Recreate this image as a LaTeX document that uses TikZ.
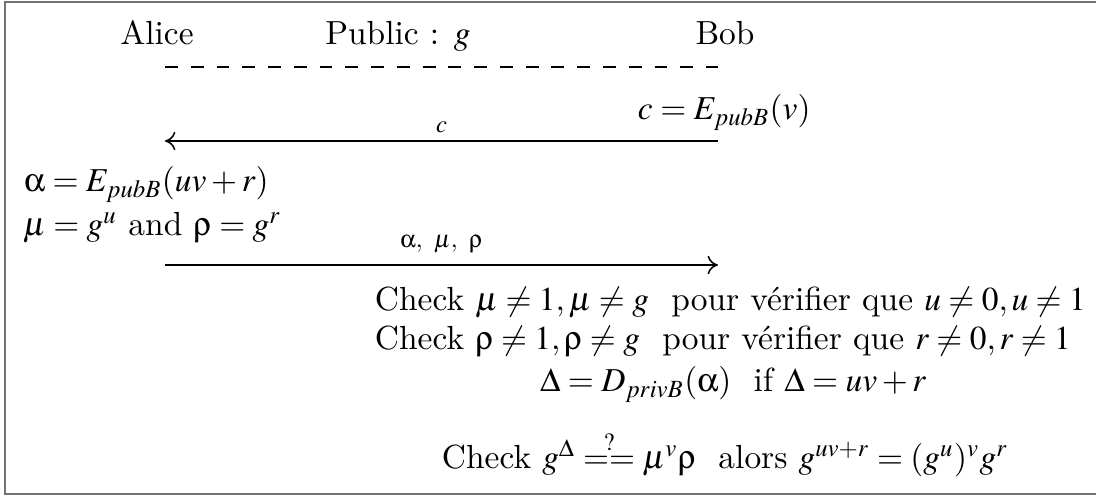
\documentclass[tikz,border=0pt]{standalone}
\usepackage{mathptmx}
\renewcommand{\rmdefault}{lmr}
\usepackage[Symbol]{upgreek}
\usetikzlibrary{arrows.meta}
\tikzset{
  txt/.style={inner sep=0pt, outer sep=0pt, font=\fontsize{10.9}{13}\selectfont},
  lab/.style={inner sep=0pt, font=\footnotesize},
  msg/.style={line width=0.5pt, -{To[length=3.4pt,width=6pt]}},
  sep/.style={line width=0.5pt, dash pattern=on 4.2pt off 4.2pt},
  frame/.style={draw=black!55, line width=0.7pt}
}
\begin{document}
\begin{tikzpicture}[x=0.326pt,y=-0.326pt]
\useasboundingbox (0,0) rectangle (1096,496);
\draw[frame] (1096,2) -- (5,2) -- (5,494) -- (1096,494);
% header
\node[txt,anchor=base] (alice) at (157,45) {Alice};
\node[txt,anchor=base] (pub) at (398,45) {Public : $g$};
\node[txt,anchor=base] (bob) at (725,45) {Bob};
\coordinate (dL) at (165,67);
\coordinate (dR) at (718,67);
\draw[sep] (dL) -- (dR);
% Bob computes c
\node[txt,anchor=base west] (cdef) at (638,120) {$c=E_{pubB}(v)$};
\coordinate (c1L) at (165,141);
\coordinate (c1R) at (718,141);
\draw[msg] (c1R) -- node[lab,above=2.5pt] {$c$} (c1L);
% Alice
\node[txt,anchor=base west] (adef) at (24,192) {$\upalpha=E_{pubB}(uv+r)$};
\node[txt,anchor=base west] (mdef) at (23,236) {$\mu=g^u$ and $\uprho=g^r$};
\coordinate (c2L) at (165,265);
\coordinate (c2R) at (718,265);
\draw[msg] (c2L) -- node[lab,above=3.5pt] {$\upalpha,\ \mu,\ \uprho$} (c2R);
% Bob checks
\node[txt,anchor=base west] (chk1) at (375,311) {Check $\mu\neq 1,\mu\neq g$~~pour vérifier que $u\neq 0,u\neq 1$};
\node[txt,anchor=base west] (chk2) at (375,350) {Check $\uprho\neq 1,\uprho\neq g$~~pour vérifier que $r\neq 0,r\neq 1$};
\node[txt,anchor=base west] (dec) at (540,392) {$\Delta=D_{privB}(\upalpha)$~~if $\Delta=uv+r$};
\node[txt,anchor=base west] (chk3) at (442,469) {Check $g^{\Delta}\stackrel{?}{==}\mu^{v}\uprho$~~alors $g^{uv+r}=(g^{u})^{v}g^{r}$};
\end{tikzpicture}
\end{document}
